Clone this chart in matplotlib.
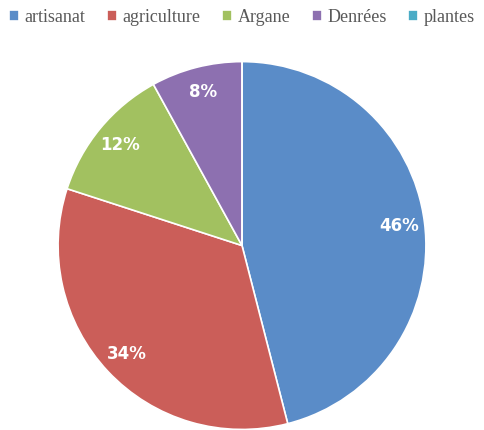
import matplotlib.pyplot as plt

# parts of the whole (percent)
categories = ['artisanat', 'agriculture', 'Argane', 'Denrées', 'plantes']
shares = [46, 34, 12, 8, 0]
colours = ['#5A8CC8', '#CB5E59', '#A2C160', '#8D70B0', '#4BACC6']

fig = plt.figure(figsize=(4.84, 4.30), dpi=100)
ax = fig.add_axes([0.116, -0.003, 0.768, 0.864])

def pct_label(p):
    # no label for the empty slice
    return '' if p < 0.5 else '%d%%' % round(p)

wedges, texts, autotexts = ax.pie(
    shares, colors=colours, startangle=90, counterclock=False,
    autopct=pct_label, pctdistance=0.86,
    wedgeprops={'edgecolor': 'white', 'linewidth': 1.2},
    textprops={'color': 'white', 'fontsize': 12, 'fontweight': 'bold',
               'family': 'DejaVu Sans'})
ax.set_xlim(-1.01, 1.01)
ax.set_ylim(-1.01, 1.01)
ax.set_aspect('equal')
ax.axis('off')

fig.legend(wedges, categories, loc='upper center', ncol=5,
           bbox_to_anchor=(0.5, 1.005), frameon=False,
           handlelength=0.55, handleheight=0.55, handletextpad=0.3,
           columnspacing=1.2, borderaxespad=0.2,
           prop={'family': 'Liberation Serif', 'size': 13},
           labelcolor='#595959')

fig.savefig('out.png', dpi=100)
